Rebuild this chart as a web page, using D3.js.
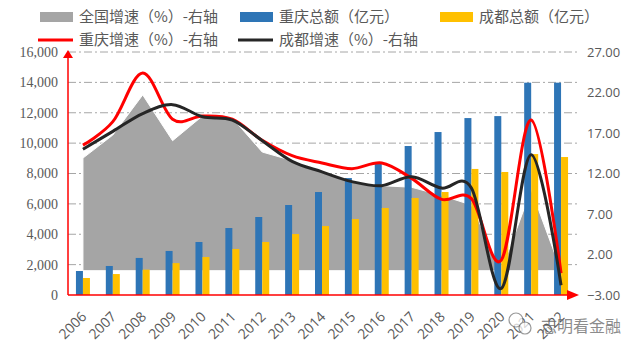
<!DOCTYPE html>
<html>
<head>
<meta charset="utf-8">
<script src="https://cdn.jsdelivr.net/npm/d3@7"></script>
<style>
  html, body { margin: 0; padding: 0; background: #fff; }
  svg { display: block; }
</style>
</head>
<body>
<svg id="chart" width="640" height="351"></svg>
<script>
const years = ["2006", "2007", "2008", "2009", "2010", "2011", "2012", "2013", "2014",
  "2015", "2016", "2017", "2018", "2019", "2020", "2021", "2022"];

// 重庆总额 / 成都总额 (亿元), left axis
const cqTotal = [1580, 1910, 2440, 2900, 3490, 4410, 5135, 5925, 6780,
  7700, 8670, 9810, 10730, 11650, 11780, 13980, 13980];
const cdTotal = [1120, 1380, 1670, 2100, 2500, 3030, 3490, 4015, 4540,
  5000, 5730, 6390, 6780, 8300, 8100, 9280, 9085];

// growth (%), right axis
const nationGrowth = [13.9, 16.75, 21.7, 16.05, 19.1, 18.85, 14.65, 13.6, 12.2,
  11.0, 10.5, 10.3, 9.3, 8.1, 0, 10.0, 0];
const cqGrowth = [15.5, 18.4, 24.4, 18.7, 19.1, 18.7, 16.1, 14.2, 13.3,
  12.6, 13.3, 11.4, 8.8, 8.9, 1.3, 18.6, -0.3];
const cdGrowth = [15.0, 17.2, 19.4, 20.5, 19.0, 18.6, 16.05, 13.5, 12.2,
  11.0, 10.5, 11.6, 10.2, 10.2, -2.2, 14.3, -1.8];

const leftTicks = [0, 2000, 4000, 6000, 8000, 10000, 12000, 14000, 16000];
const rightTicks = [-3, 2, 7, 12, 17, 22, 27];

const colors = {
  area: "#a5a5a5",
  cq: "#2e75b6",
  cd: "#ffc000",
  cqLine: "#ff0000",
  cdLine: "#262626",
  text: "#595959",
  grid: "#a6a6a6"
};

const svg = d3.select("#chart");
const plot = { left: 68, right: 576, top: 52, bottom: 295 };

const x = d3.scaleBand().domain(years).range([plot.left, plot.right]).padding(0);
const cx = (d) => x(d) + x.bandwidth() / 2;
const yL = d3.scaleLinear().domain([0, 16000]).range([plot.bottom, plot.top]);
const yR = d3.scaleLinear().domain([-3, 27]).range([plot.bottom, plot.top]);

// grid
svg.append("g")
  .selectAll("line")
  .data(leftTicks.slice(1))
  .join("line")
  .attr("x1", plot.left)
  .attr("x2", plot.right + 2)
  .attr("y1", (d) => yL(d))
  .attr("y2", (d) => yL(d))
  .attr("stroke", colors.grid)
  .attr("stroke-width", 1)
  .attr("stroke-dasharray", "8,3,2,3");

// national growth area
const area = d3.area()
  .x((d, i) => cx(years[i]))
  .y0(yR(0))
  .y1((d) => yR(d));
svg.append("path")
  .datum(nationGrowth)
  .attr("fill", colors.area)
  .attr("stroke", "#fff")
  .attr("stroke-width", 1)
  .attr("d", area);

// bars
const barW = 7;
svg.append("g")
  .selectAll("rect")
  .data(cqTotal)
  .join("rect")
  .attr("x", (d, i) => cx(years[i]) - barW)
  .attr("y", (d) => yL(d))
  .attr("width", barW)
  .attr("height", (d) => yL(0) - yL(d))
  .attr("fill", colors.cq);

svg.append("g")
  .selectAll("rect")
  .data(cdTotal)
  .join("rect")
  .attr("x", (d, i) => cx(years[i]))
  .attr("y", (d) => yL(d))
  .attr("width", barW)
  .attr("height", (d) => yL(0) - yL(d))
  .attr("fill", colors.cd);

// smoothed lines
const line = d3.line()
  .x((d, i) => cx(years[i]))
  .y((d) => yR(d))
  .curve(d3.curveCardinal.tension(0));

svg.append("path")
  .datum(cqGrowth)
  .attr("fill", "none")
  .attr("stroke", colors.cqLine)
  .attr("stroke-width", 3)
  .attr("d", line);

svg.append("path")
  .datum(cdGrowth)
  .attr("fill", "none")
  .attr("stroke", colors.cdLine)
  .attr("stroke-width", 3)
  .attr("d", line);

// red axes with arrows
svg.append("line")
  .attr("x1", plot.left).attr("x2", plot.left)
  .attr("y1", plot.bottom).attr("y2", plot.top + 4)
  .attr("stroke", "#ff0000").attr("stroke-width", 1.5);
svg.append("path")
  .attr("d", `M${plot.left - 5},${plot.top + 6} L${plot.left},${plot.top - 2} L${plot.left + 5},${plot.top + 6} Z`)
  .attr("fill", "#ff0000");
svg.append("line")
  .attr("x1", plot.left).attr("x2", plot.right - 6)
  .attr("y1", plot.bottom).attr("y2", plot.bottom)
  .attr("stroke", "#ff0000").attr("stroke-width", 1.5);
svg.append("path")
  .attr("d", `M${plot.right - 9},${plot.bottom - 5} L${plot.right + 3},${plot.bottom} L${plot.right - 9},${plot.bottom + 5} Z`)
  .attr("fill", "#ff0000");

// left tick labels
svg.append("g")
  .selectAll("text")
  .data(leftTicks)
  .join("text")
  .attr("x", 58)
  .attr("y", (d) => yL(d))
  .attr("dy", "0.35em")
  .attr("text-anchor", "end")
  .attr("font-family", "'Liberation Serif', serif")
  .attr("font-size", 14)
  .attr("fill", colors.text)
  .text((d) => d3.format(",")(d));

// right tick labels
svg.append("g")
  .selectAll("text")
  .data(rightTicks)
  .join("text")
  .attr("x", 587)
  .attr("y", (d) => yR(d))
  .attr("dy", "0.35em")
  .attr("text-anchor", "start")
  .attr("font-family", "'Open Sans', sans-serif")
  .attr("font-size", 13)
  .attr("fill", colors.text)
  .text((d) => d3.format(".2f")(d));

// x labels
svg.append("g")
  .selectAll("text")
  .data(years)
  .join("text")
  .attr("transform", (d) => `translate(${cx(d) + 1},${plot.bottom + 19}) rotate(-45)`)
  .attr("text-anchor", "end")
  .attr("dy", "0.35em")
  .attr("font-family", "'Open Sans', sans-serif")
  .attr("font-size", 14)
  .attr("fill", colors.text)
  .text((d) => d);

// legend
const legendFont = "'Noto Sans CJK SC', sans-serif";
const legendItems = [
  { label: "全国增速（%）-右轴", type: "rect", color: colors.area, x: 40, tx: 79, y: 17 },
  { label: "重庆总额（亿元）", type: "rect", color: colors.cq, x: 240, tx: 279, y: 17 },
  { label: "成都总额（亿元）", type: "rect", color: colors.cd, x: 440, tx: 479, y: 17 },
  { label: "重庆增速（%）-右轴", type: "line", color: colors.cqLine, x: 38, tx: 79, y: 40 },
  { label: "成都增速（%）-右轴", type: "line", color: colors.cdLine, x: 238, tx: 279, y: 40 }
];
const legend = svg.append("g");
legendItems.forEach((it) => {
  if (it.type === "rect") {
    legend.append("rect")
      .attr("x", it.x).attr("y", it.y - 5)
      .attr("width", 33).attr("height", 10)
      .attr("fill", it.color);
  } else {
    legend.append("line")
      .attr("x1", it.x).attr("x2", it.x + 35)
      .attr("y1", it.y).attr("y2", it.y)
      .attr("stroke", it.color).attr("stroke-width", 3);
  }
  legend.append("text")
    .attr("x", it.tx)
    .attr("y", it.y)
    .attr("dy", "0.35em")
    .attr("font-family", legendFont)
    .attr("font-size", 15)
    .attr("fill", colors.text)
    .text(it.label);
});

// watermark
const wm = svg.append("g").attr("opacity", 0.75);
wm.append("circle").attr("cx", 516).attr("cy", 320).attr("r", 7)
  .attr("fill", "#fff").attr("stroke", "#777").attr("stroke-width", 1.2);
wm.append("circle").attr("cx", 525).attr("cy", 328).attr("r", 6)
  .attr("fill", "#fff").attr("stroke", "#777").attr("stroke-width", 1.2);
wm.append("text")
  .attr("x", 541).attr("y", 326)
  .attr("dy", "0.35em")
  .attr("font-family", legendFont)
  .attr("font-size", 16)
  .attr("fill", "#666")
  .text("志明看金融");
</script>
</body>
</html>
